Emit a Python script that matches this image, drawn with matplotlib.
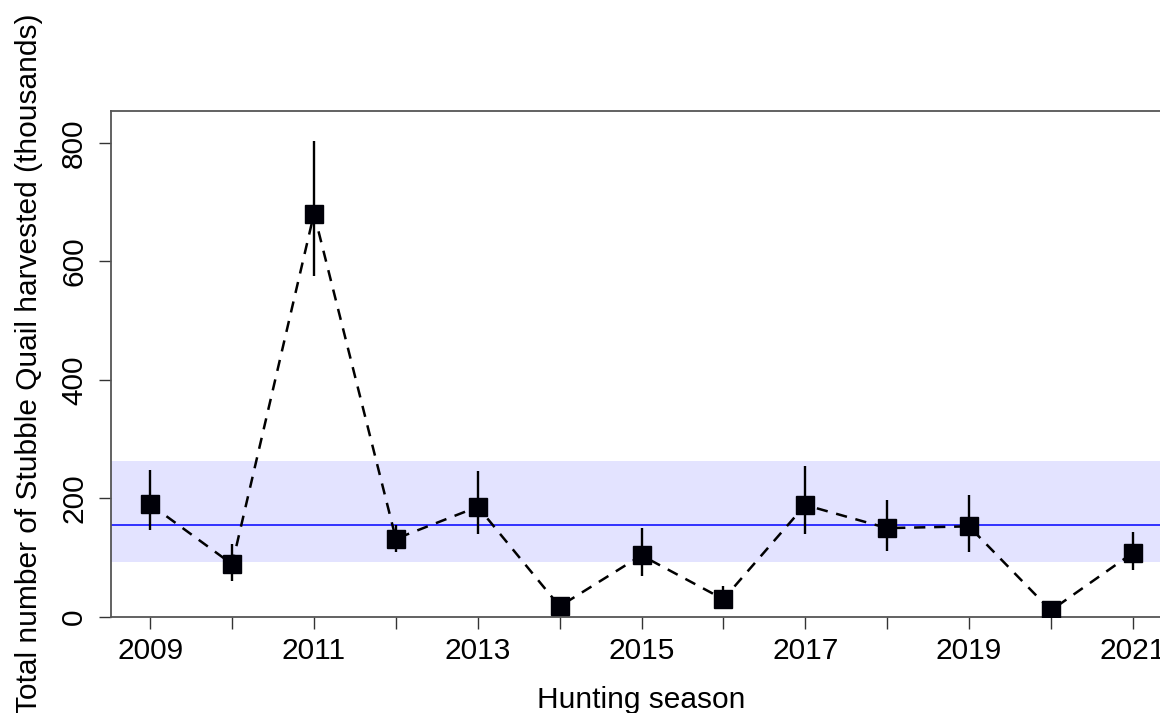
import numpy as np
import matplotlib.pyplot as plt

plt.rcParams['font.family'] = ['Liberation Sans', 'DejaVu Sans']

# harvest estimates (thousands) with lower / upper bounds
seasons = [2009, 2010, 2011, 2012, 2013, 2014, 2015, 2016, 2017, 2018, 2019, 2020, 2021]
harvest = [190, 89, 681, 132, 186, 18, 104, 30, 189, 150, 153, 11, 108]
lower = [146, 61, 575, 110, 140, 8, 69, 15, 140, 112, 110, 4, 80]
upper = [248, 124, 804, 155, 246, 30, 150, 52, 255, 197, 206, 20, 144]

mean_harvest = 156
band_low, band_high = 93, 263

fig = plt.figure(figsize=(11.6, 7.13), dpi=100)
ax = fig.add_axes([111 / 1160, 96 / 713, 1061 / 1160, 506 / 713])

ax.axhspan(band_low, band_high, color=(0, 0, 1, 0.11), lw=0, zorder=1)
ax.axhline(mean_harvest, color='blue', lw=1.1, zorder=2)

ax.plot(seasons, harvest, color='black', lw=1.8, ls=(0, (4.5, 3.5)), zorder=3)
ax.vlines(seasons, lower, upper, color='black', lw=1.7, zorder=4)
ax.plot(seasons, harvest, ls='none', marker='s', ms=12.5, color='#000008', zorder=5)

ax.set_xlim(2008.52, 2021.48)
ax.set_ylim(0, 854)

ax.set_xticks(seasons)
ax.set_xticklabels([str(s) if s % 2 == 1 else '' for s in seasons])
ax.set_yticks([0, 200, 400, 600, 800])
ax.set_yticklabels(['0', '200', '400', '600', '800'], rotation=90, va='center')

ax.tick_params(axis='both', length=8.5, width=1.0, color='#333333', labelsize=21.5, pad=6)
ax.tick_params(axis='y', pad=8)

for side in ['left', 'bottom', 'top', 'right']:
    ax.spines[side].set_color('#555555')
    ax.spines[side].set_linewidth(1.3)

ax.set_xlabel('Hunting season', fontsize=21.5, labelpad=15)
ax.set_ylabel('Total number of Stubble Quail harvested (thousands)', fontsize=21.5, labelpad=12)

fig.savefig('out.png', dpi=100)
